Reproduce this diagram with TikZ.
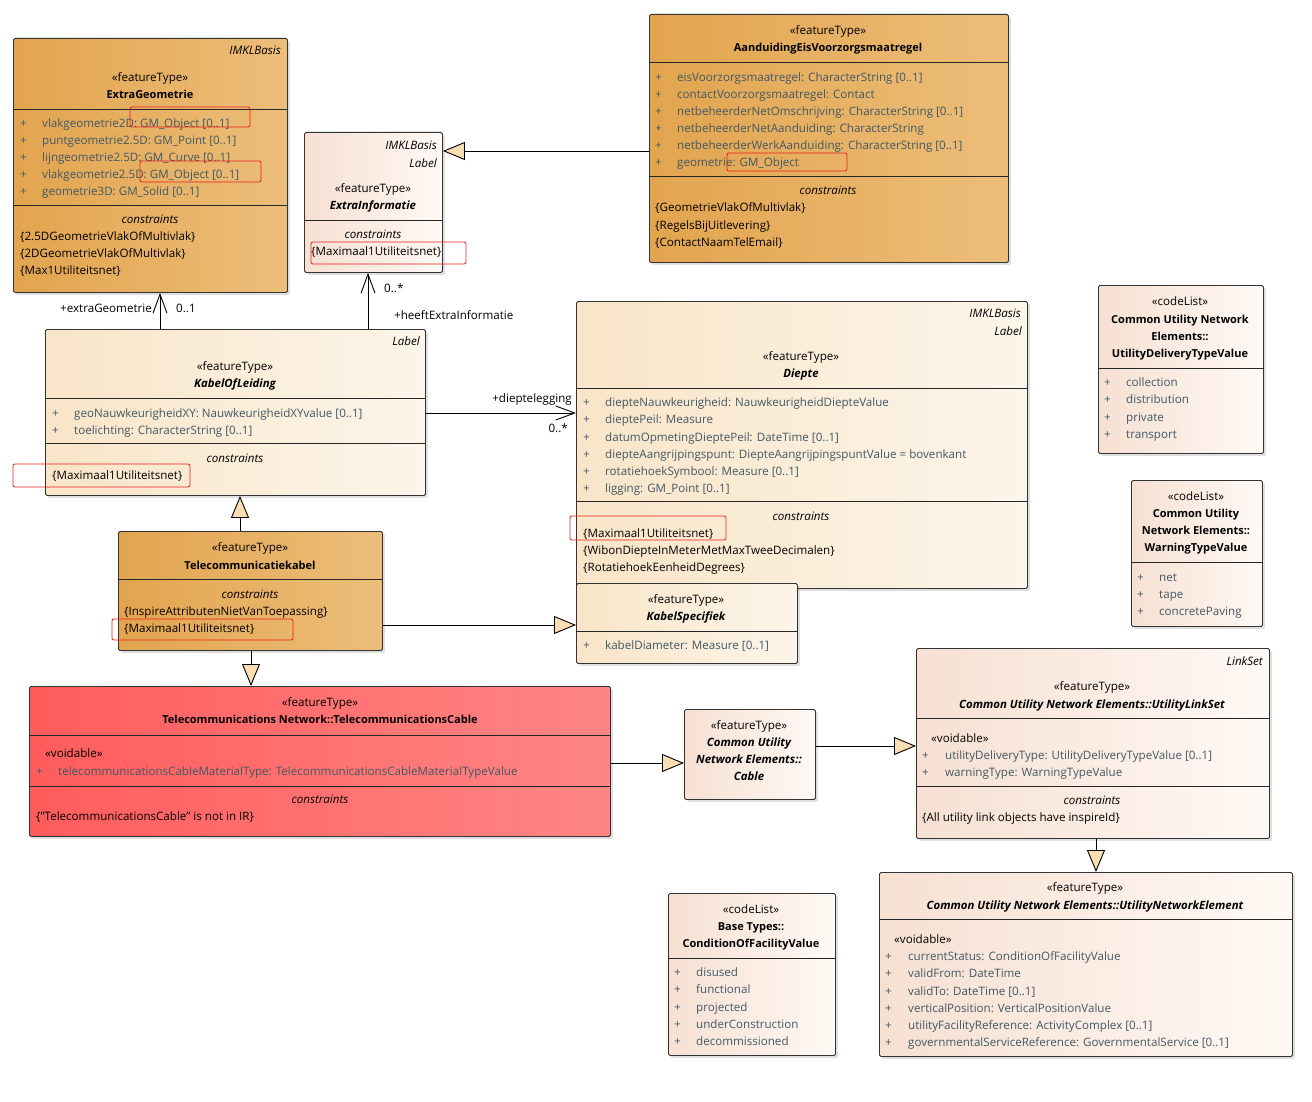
\documentclass[tikz,border=0pt]{standalone}
\usepackage{fontspec}
\setmainfont{Open Sans}
\usetikzlibrary{arrows.meta,shadows}

\definecolor{orangeleft}{RGB}{226,164,78}
\definecolor{orangeright}{RGB}{236,190,122}
\definecolor{beigeleft}{RGB}{249,229,200}
\definecolor{beigeright}{RGB}{252,245,234}
\definecolor{pinkleft}{RGB}{246,224,210}
\definecolor{pinkright}{RGB}{255,249,245}
\definecolor{redleft}{RGB}{255,92,92}
\definecolor{redright}{RGB}{255,134,134}
\definecolor{attrgrey}{RGB}{66,88,100}
\definecolor{genfill}{RGB}{248,222,178}
\definecolor{noteframe}{RGB}{232,30,30}

\newcommand\umlfont{\fontsize{11.6}{13}\selectfont}
\newcommand\umlboldfont{\fontsize{11}{13}\selectfont\bfseries}
\newcommand\umlabstractfont{\fontsize{11.4}{13}\selectfont\bfseries\itshape}

\tikzset{
  umlbox/.style={draw=black!80, line width=0.9pt, rounded corners=1.5pt,
    anchor=north west, inner sep=0pt,
    drop shadow={shadow xshift=2.5pt, shadow yshift=-2.5pt, opacity=0.25}},
  orangebox/.style={umlbox, left color=orangeleft, right color=orangeright},
  beigebox/.style={umlbox, left color=beigeleft, right color=beigeright},
  pinkbox/.style={umlbox, left color=pinkleft, right color=pinkright},
  redbox/.style={umlbox, left color=redleft, right color=redright},
  divider/.style={draw=black!85, line width=0.9pt},
  umltext/.style={inner sep=0pt, font=\umlfont, yshift=-2pt},
  stereo/.style={umltext, anchor=mid},
  classname/.style={umltext, anchor=mid, font=\umlboldfont},
  abstractname/.style={umltext, anchor=mid, font=\umlabstractfont},
  pkgname/.style={umltext, anchor=mid east, font=\umlfont\itshape},
  conshead/.style={umltext, anchor=mid, font=\umlfont\itshape},
  cons/.style={umltext, anchor=mid west},
  plus/.style={umltext, anchor=mid west, text=attrgrey},
  attr/.style={umltext, anchor=mid west, text=attrgrey},
  rolelabel/.style={umltext},
  redframe/.style={draw=noteframe, line width=0.8pt, rounded corners=2pt},
  gen/.style={draw=black, line width=0.9pt,
    -{Triangle[length=22pt, width=18pt, fill=genfill]}},
  assoc/.style={draw=black, line width=0.9pt,
    -{Straight Barb[length=19pt, width=14pt]}}
}

\begin{document}
\begin{tikzpicture}[x=1pt, y=-1pt]
\useasboundingbox (0,0) rectangle (1312,1102);
\fill[white] (0,0) rectangle (1312,1102);

% ExtraGeometrie
\node[orangebox, minimum width=274, minimum height=254] (extrageo) at (13,38) {};
\node[pkgname] at (281,50) {IMKLBasis};
\node[stereo] at (150,77) {«featureType»};
\node[classname] at (150,94) {ExtraGeometrie};
\draw[divider] (extrageo.west |- 0,109) -- (extrageo.east |- 0,109);
\foreach \a [count=\i from 0] in {vlakgeometrie2D: GM\_Object [0..1], puntgeometrie2.5D: GM\_Point [0..1], lijngeometrie2.5D: GM\_Curve [0..1], vlakgeometrie2.5D: GM\_Object [0..1], geometrie3D: GM\_Solid [0..1]}{
  \node[plus] at (20,123+17*\i) {+};
  \node[attr] at (42,123+17*\i) {\a};
}
\draw[divider] (extrageo.west |- 0,205) -- (extrageo.east |- 0,205);
\node[conshead] at (150,219) {constraints};
\foreach \c [count=\i from 0] in {2.5DGeometrieVlakOfMultivlak, 2DGeometrieVlakOfMultivlak, Max1Utiliteitsnet}
  \node[cons] at (20,236+17*\i) {\{\c\}};

% ExtraInformatie
\node[pinkbox, minimum width=138, minimum height=140] (extrainfo) at (304,132) {};
\node[pkgname] at (437,145) {IMKLBasis};
\node[pkgname] at (437,163) {Label};
\node[stereo] at (373,188) {«featureType»};
\node[abstractname] at (373,205) {ExtraInformatie};
\draw[divider] (extrainfo.west |- 0,220) -- (extrainfo.east |- 0,220);
\node[conshead] at (373,234) {constraints};
\node[cons] at (311,251) {\{Maximaal1Utiliteitsnet\}};

% AanduidingEisVoorzorgsmaatregel
\node[orangebox, minimum width=359, minimum height=248] (aanduiding) at (649,14) {};
\node[stereo] at (828,30) {«featureType»};
\node[classname] at (828,47) {AanduidingEisVoorzorgsmaatregel};
\draw[divider] (aanduiding.west |- 0,62) -- (aanduiding.east |- 0,62);
\foreach \a [count=\i from 0] in {eisVoorzorgsmaatregel: CharacterString [0..1], contactVoorzorgsmaatregel: Contact, netbeheerderNetOmschrijving: CharacterString [0..1], netbeheerderNetAanduiding: CharacterString, netbeheerderWerkAanduiding: CharacterString [0..1], geometrie: GM\_Object}{
  \node[plus] at (655,77+17*\i) {+};
  \node[attr] at (677,77+17*\i) {\a};
}
\draw[divider] (aanduiding.west |- 0,176) -- (aanduiding.east |- 0,176);
\node[conshead] at (828,190) {constraints};
\foreach \c [count=\i from 0] in {GeometrieVlakOfMultivlak, RegelsBijUitlevering, ContactNaamTelEmail}
  \node[cons] at (655,207+17.5*\i) {\{\c\}};

% KabelOfLeiding
\node[beigebox, minimum width=380, minimum height=166] (kabel) at (45,329) {};
\node[pkgname] at (420,341) {Label};
\node[stereo] at (235,366) {«featureType»};
\node[abstractname] at (235,383) {KabelOfLeiding};
\draw[divider] (kabel.west |- 0,398) -- (kabel.east |- 0,398);
\foreach \a [count=\i from 0] in {geoNauwkeurigheidXY: NauwkeurigheidXYvalue [0..1], toelichting: CharacterString [0..1]}{
  \node[plus] at (52,413+17*\i) {+};
  \node[attr] at (74,413+17*\i) {\a};
}
\draw[divider] (kabel.west |- 0,443) -- (kabel.east |- 0,443);
\node[conshead] at (235,458) {constraints};
\node[cons] at (52,475) {\{Maximaal1Utiliteitsnet\}};

% Diepte
\node[beigebox, minimum width=451, minimum height=287] (diepte) at (576,301) {};
\node[pkgname] at (1021,313) {IMKLBasis};
\node[pkgname] at (1022,331) {Label};
\node[stereo] at (801,356) {«featureType»};
\node[abstractname] at (801,373) {Diepte};
\draw[divider] (diepte.west |- 0,388) -- (diepte.east |- 0,388);
\foreach \a [count=\i from 0] in {diepteNauwkeurigheid: NauwkeurigheidDiepteValue, dieptePeil: Measure, datumOpmetingDieptePeil: DateTime [0..1], diepteAangrijpingspunt: DiepteAangrijpingspuntValue = bovenkant, rotatiehoekSymbool: Measure [0..1], ligging: GM\_Point [0..1]}{
  \node[plus] at (583,402+17.2*\i) {+};
  \node[attr] at (605,402+17.2*\i) {\a};
}
\draw[divider] (diepte.west |- 0,501) -- (diepte.east |- 0,501);
\node[conshead] at (801,516) {constraints};
\foreach \c [count=\i from 0] in {Maximaal1Utiliteitsnet, WibonDiepteInMeterMetMaxTweeDecimalen, RotatiehoekEenheidDegrees}
  \node[cons] at (583,533+17*\i) {\{\c\}};

% KabelSpecifiek
\node[beigebox, minimum width=221, minimum height=80] (kabelspec) at (576,583) {};
\node[stereo] at (686,599) {«featureType»};
\node[abstractname] at (686,616) {KabelSpecifiek};
\draw[divider] (kabelspec.west |- 0,631) -- (kabelspec.east |- 0,631);
\node[plus] at (583,645) {+};
\node[attr] at (605,645) {kabelDiameter: Measure [0..1]};

% Telecommunicatiekabel
\node[orangebox, minimum width=264, minimum height=119] (telekabel) at (118,531) {};
\node[stereo] at (250,547) {«featureType»};
\node[classname] at (250,565) {Telecommunicatiekabel};
\draw[divider] (telekabel.west |- 0,579) -- (telekabel.east |- 0,579);
\node[conshead] at (250,594) {constraints};
\node[cons] at (124,611) {\{InspireAttributenNietVanToepassing\}};
\node[cons] at (124,628) {\{Maximaal1Utiliteitsnet\}};

% Telecommunications Network::TelecommunicationsCable
\node[redbox, minimum width=581, minimum height=150] (telecable) at (29,686) {};
\node[stereo] at (320,702) {«featureType»};
\node[classname] at (320,719) {Telecommunications Network::TelecommunicationsCable};
\draw[divider] (telecable.west |- 0,735) -- (telecable.east |- 0,735);
\node[cons] at (45,753) {«voidable»};
\node[plus] at (36,771) {+};
\node[attr] at (58,771) {telecommunicationsCableMaterialType: TelecommunicationsCableMaterialTypeValue};
\draw[divider] (telecable.west |- 0,786) -- (telecable.east |- 0,786);
\node[conshead] at (320,799) {constraints};
\node[cons] at (36,816) {\{"TelecommunicationsCable" is not in IR\}};

% Common Utility Network Elements::Cable
\node[pinkbox, minimum width=131, minimum height=90] (cable) at (684,709) {};
\node[stereo] at (749,725) {«featureType»};
\node[abstractname] at (749,742) {Common Utility};
\node[abstractname] at (749,759) {Network Elements::};
\node[abstractname] at (749,776) {Cable};

% Common Utility Network Elements::UtilityLinkSet
\node[pinkbox, minimum width=353, minimum height=190] (linkset) at (916,648) {};
\node[pkgname] at (1263,661) {LinkSet};
\node[stereo] at (1092,686) {«featureType»};
\node[abstractname] at (1092,704) {Common Utility Network Elements::UtilityLinkSet};
\draw[divider] (linkset.west |- 0,718) -- (linkset.east |- 0,718);
\node[cons] at (931,738) {«voidable»};
\foreach \a [count=\i from 0] in {utilityDeliveryType: UtilityDeliveryTypeValue [0..1], warningType: WarningTypeValue}{
  \node[plus] at (922,755+17*\i) {+};
  \node[attr] at (945,755+17*\i) {\a};
}
\draw[divider] (linkset.west |- 0,786) -- (linkset.east |- 0,786);
\node[conshead] at (1092,800) {constraints};
\node[cons] at (922,817) {\{All utility link objects have inspireId\}};

% Common Utility Network Elements::UtilityNetworkElement
\node[pinkbox, minimum width=413, minimum height=184] (netelem) at (879,872) {};
\node[stereo] at (1085,887) {«featureType»};
\node[abstractname] at (1085,905) {Common Utility Network Elements::UtilityNetworkElement};
\draw[divider] (netelem.west |- 0,919) -- (netelem.east |- 0,919);
\node[cons] at (894,939) {«voidable»};
\foreach \a [count=\i from 0] in {currentStatus: ConditionOfFacilityValue, validFrom: DateTime, validTo: DateTime [0..1], verticalPosition: VerticalPositionValue, utilityFacilityReference: ActivityComplex [0..1], governmentalServiceReference: GovernmentalService [0..1]}{
  \node[plus] at (885,956+17.2*\i) {+};
  \node[attr] at (908,956+17.2*\i) {\a};
}

% Base Types::ConditionOfFacilityValue
\node[pinkbox, minimum width=167, minimum height=162] (condfac) at (668,893) {};
\node[stereo] at (751,909) {«codeList»};
\node[classname] at (751,926) {Base Types::};
\node[classname] at (751,943) {ConditionOfFacilityValue};
\draw[divider] (condfac.west |- 0,958) -- (condfac.east |- 0,958);
\foreach \a [count=\i from 0] in {disused, functional, projected, underConstruction, decommissioned}{
  \node[plus] at (674,972+17.25*\i) {+};
  \node[attr] at (696,972+17.25*\i) {\a};
}

% UtilityDeliveryTypeValue
\node[pinkbox, minimum width=165, minimum height=168] (deliverytype) at (1098,285) {};
\node[stereo] at (1180,301) {«codeList»};
\node[classname] at (1180,319) {Common Utility Network};
\node[classname] at (1180,336) {Elements::};
\node[classname] at (1180,353) {UtilityDeliveryTypeValue};
\draw[divider] (deliverytype.west |- 0,368) -- (deliverytype.east |- 0,368);
\foreach \a [count=\i from 0] in {collection, distribution, private, transport}{
  \node[plus] at (1104,382+17.3*\i) {+};
  \node[attr] at (1126,382+17.3*\i) {\a};
}

% WarningTypeValue
\node[pinkbox, minimum width=131, minimum height=146] (warningtype) at (1131,480) {};
\node[stereo] at (1196,496) {«codeList»};
\node[classname] at (1196,513) {Common Utility};
\node[classname] at (1196,530) {Network Elements::};
\node[classname] at (1196,547) {WarningTypeValue};
\draw[divider] (warningtype.west |- 0,562) -- (warningtype.east |- 0,562);
\foreach \a [count=\i from 0] in {net, tape, concretePaving}{
  \node[plus] at (1137,577+17*\i) {+};
  \node[attr] at (1159,577+17*\i) {\a};
}

% associations
\draw[assoc] (kabel.north -| 160,0) -- (extrageo.south -| 160,0);
\node[rolelabel, anchor=mid east] at (152,308) {+extraGeometrie};
\node[rolelabel, anchor=mid west] at (176,308) {0..1};
\draw[assoc] (kabel.north -| 368,0) -- (extrainfo.south -| 368,0);
\node[rolelabel, anchor=mid west] at (384,288) {0..*};
\node[rolelabel, anchor=mid west] at (394,315) {+heeftExtraInformatie};
\draw[assoc] (kabel.east |- 0,413) -- (diepte.west |- 0,413);
\node[rolelabel, anchor=mid east] at (572,398) {+dieptelegging};
\node[rolelabel, anchor=mid east] at (568,428) {0..*};

% generalizations
\draw[gen] (aanduiding.west |- 0,151) -- (extrainfo.east |- 0,151);
\draw[gen] (telekabel.north -| 240,0) -- (kabel.south -| 240,0);
\draw[gen] (telekabel.south -| 251,0) -- (telecable.north -| 251,0);
\draw[gen] (telekabel.east |- 0,625) -- (kabelspec.west |- 0,625);
\draw[gen] (telecable.east |- 0,763) -- (cable.west |- 0,763);
\draw[gen] (cable.east |- 0,746) -- (linkset.west |- 0,746);
\draw[gen] (linkset.south -| 1096,0) -- (netelem.north -| 1096,0);

% red marks
\draw[redframe] (130,107) rectangle (250,127);
\draw[redframe] (140,161) rectangle (261,182);
\draw[redframe] (311,242) rectangle (466,264);
\draw[redframe] (727,153) rectangle (847,171);
\draw[redframe] (13,464) rectangle (190,487);
\draw[redframe] (570,516) rectangle (726,540);
\draw[redframe] (112,619) rectangle (293,640);
\end{tikzpicture}
\end{document}
